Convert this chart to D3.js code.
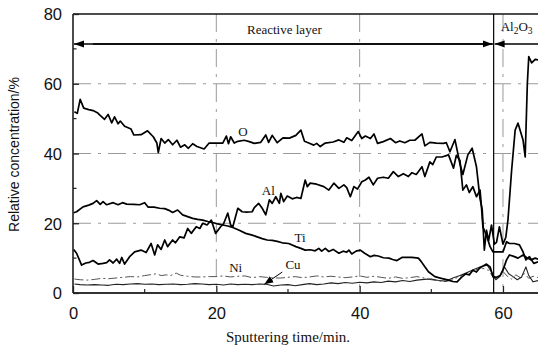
<!DOCTYPE html>
<html>
<head>
<meta charset="utf-8">
<script src="https://cdn.jsdelivr.net/npm/d3@7"></script>
<style>
  html, body { margin: 0; padding: 0; background: #fff; }
  svg { display: block; }
</style>
</head>
<body>
<svg id="chart" width="538" height="346"></svg>
<script>
// Depth profile: relative concentration (%) vs sputtering time (min)
const xTicks = [0, 20, 40, 60];
const yTicks = [0, 20, 40, 60, 80];
const xMinorTicks = [10, 30, 50];
const yMinorTicks = [10, 30, 50, 70];

// [time, concentration] pairs for each element
const oProfile = [[0.2,52],[0.6,51.5],[1.0,55.5],[1.5,53],[2.2,52.6],[2.8,52.3],[3.4,51.7],[3.75,51],[4.4,49.8],[4.9,51.2],[5.4,48.8],[5.8,50.5],[6.3,48.5],[6.6,49.3],[7.2,47.8],[8.1,47],[8.5,45.3],[9.5,45.4],[10.4,46.5],[11.2,44.8],[11.7,43],[11.9,40.3],[12.3,44.3],[12.8,43],[13.3,44],[13.9,42.5],[14.5,43.8],[15.0,41.8],[15.6,42.5],[16.1,41.5],[16.7,42.8],[17.3,42],[18.3,41.3],[19.0,43],[20.0,43],[20.9,43],[21.4,45],[21.7,42.8],[22.0,44.8],[22.5,43],[23.0,43.5],[23.9,43.8],[24.6,43.4],[25.3,42.9],[26.2,43.2],[26.9,45.3],[27.3,43.2],[27.8,45.2],[28.5,43.1],[29.3,44.5],[30.2,44.4],[31.1,45.2],[31.8,46.7],[32.3,43.5],[32.9,43],[33.6,42.4],[34.0,42.9],[34.5,42],[35.2,43],[36.3,43.3],[37.1,43.9],[37.8,43.2],[38.2,44.5],[38.9,43.7],[39.8,46.3],[40.3,44.3],[40.8,45],[41.5,44.3],[42.0,45.6],[42.5,42.9],[43.3,43.4],[44.3,44.3],[45.0,43.1],[45.6,43.6],[46.3,43.1],[47.0,43.8],[47.7,43.8],[48.7,45.6],[49.1,42.2],[49.8,43.2],[50.7,43],[51.7,42.9],[52.1,43.1],[52.6,40.5],[53.3,44],[54.0,37],[54.4,34],[55.1,39.6],[55.7,41.5],[56.3,36.2],[56.8,27],[57.1,24],[57.4,12.3],[57.7,18],[58.0,15],[58.4,19.5],[58.8,14],[59.1,14.5],[59.5,19],[60.0,14],[60.4,16],[60.7,21],[61.2,35],[61.7,46.7],[62.1,48.7],[62.8,43.9],[63.1,39],[63.4,60],[63.6,67.8],[64.0,66],[64.5,67],[65,66.8]];

const alProfile = [[0.1,12.5],[0.5,11.4],[1.2,8],[1.8,8.6],[2.3,8.8],[2.8,9.3],[3.5,8.3],[4.2,8.5],[4.7,8.7],[5.1,9.5],[5.6,8.6],[6.1,9.7],[6.5,8.5],[6.8,10.2],[7.2,8.3],[7.9,10.4],[8.6,11.8],[9.5,12.3],[10.2,11.6],[10.9,14.2],[11.4,10.9],[11.8,13.8],[12.3,12.5],[12.8,15.2],[13.2,13.3],[13.9,15.2],[14.3,14.4],[14.9,16.1],[15.5,15.8],[16.0,18.5],[16.5,17.1],[17.2,19],[17.7,18.5],[18.1,20],[18.7,19.5],[19.3,20.9],[19.9,17.1],[20.6,19],[21.0,19.8],[21.6,22.9],[22.0,19.5],[22.3,19],[23.0,24.3],[23.6,23.3],[24.2,23.2],[25.0,23.3],[25.3,24.5],[25.9,25.7],[26.4,24.3],[26.9,22.4],[27.4,26.7],[27.8,25.7],[28.3,27.6],[28.8,25.7],[29.0,28.6],[29.4,26.2],[29.9,27.8],[30.6,27],[31.2,27.4],[31.8,27.1],[32.4,32.4],[32.7,30.5],[33.1,31.5],[34.0,31.2],[35.0,30.5],[35.7,29.5],[36.4,31.5],[37.1,30],[37.8,31],[38.2,30.2],[38.7,27.6],[39.2,30.5],[39.7,29.8],[40.3,31.9],[40.8,32.4],[41.3,33.2],[41.9,31],[42.5,32.9],[43.3,33.2],[44.0,32.9],[44.7,34.8],[45.4,33.4],[46.1,34.2],[46.8,33.4],[47.3,34.5],[47.9,34],[48.7,36.2],[49.1,33.4],[49.8,37.6],[50.2,36.8],[50.7,39],[51.5,39],[52.4,39.6],[53.1,35.8],[53.5,39.5],[54.0,38],[54.4,29.5],[54.9,31],[55.3,28.8],[55.8,30.5],[56.3,27.6],[56.8,29.5],[57.0,24.7],[57.2,19],[57.7,16.5],[58.2,13.3],[58.6,11.8],[59.3,11.8],[60.0,11.8],[60.5,14.7],[60.9,14.2],[61.6,14.2],[62.3,13.8],[62.8,11.8],[63.2,9.5],[63.7,10.4],[64.3,8.5],[65,9]];

const tiProfile = [[0.1,23],[0.5,23.3],[1.4,24.7],[2.2,25.2],[2.8,25.7],[3.3,26.5],[3.8,25.4],[4.2,26.2],[4.7,25.3],[5.6,25.9],[6.3,25.3],[6.9,25.9],[7.5,25.5],[8.5,25.4],[9.3,25.3],[10.0,25.9],[10.5,24.6],[11.3,24.6],[12.1,24.3],[12.8,24.2],[13.4,23.7],[13.9,23.1],[14.6,23.8],[15.3,22.4],[16.0,21.9],[16.7,21.4],[17.4,21.1],[18.1,20.9],[18.8,20.5],[19.5,20.2],[20.2,19.8],[20.9,19.5],[21.6,19.2],[22.3,18.8],[23.2,18],[24.1,17.1],[25.0,16.6],[25.7,16.1],[26.4,15.6],[27.1,15.2],[27.8,15.1],[28.5,14.8],[29.2,14.4],[30.1,14.2],[31.1,13.3],[31.8,12.8],[32.4,12.3],[33.1,12.4],[33.8,12.1],[34.3,12.8],[34.7,12],[35.2,12.8],[35.7,11.9],[36.3,12.5],[37.1,11.4],[37.7,12],[38.2,11.7],[38.5,12.3],[38.9,11.2],[39.5,12],[40.1,12.3],[40.7,11.4],[41.5,10.4],[42.0,10.8],[42.6,10.6],[43.3,10.1],[44.1,10],[44.6,9.6],[45.2,9.3],[45.9,10.2],[46.6,10.2],[47.3,10.2],[48.2,10],[48.6,9],[49.1,7.5],[49.6,6.1],[50.5,4.7],[51.4,4.2],[52.4,3.7],[53.0,3.3],[53.6,3.2],[54.2,4.5],[54.8,5.5],[55.3,5.2],[55.8,6.5],[56.3,6],[56.8,7.3],[57.3,7.8],[57.7,8.3],[58.2,7.5],[58.6,4.7],[59.1,4.5],[59.6,5],[60.0,6.6],[60.5,9.5],[60.9,10.9],[61.5,10.5],[62.1,10],[62.8,10.9],[63.3,10.2],[63.9,9.5],[64.5,10],[65,9.6]];

const niProfile = [[0.2,4.0],[1,3.8],[2,3.7],[3,3.9],[4,4.2],[5,4.1],[6,4.3],[7,4.5],[8,4.7],[9,4.6],[10,5.0],[11,5.3],[11.6,5.5],[12.3,5.0],[13,5.2],[13.6,5.0],[14.4,5.7],[15,5.1],[16,4.8],[17,4.6],[18,4.6],[19,4.7],[20,4.7],[21,4.9],[22,4.6],[23,4.8],[24,4.9],[25,4.4],[26,4.7],[27,4.5],[28,4.3],[29,4.3],[30,4.5],[31,4.7],[32,4.4],[33,4.6],[34,4.9],[35,4.6],[36,4.8],[37,4.6],[38,4.4],[39,4.6],[40,4.9],[41,4.5],[42,4.8],[43,4.5],[44,4.2],[45,4.6],[46,4.2],[47,4.4],[48,4.7],[49,4.3],[50,3.8],[51,3.5],[52,3.3],[53,3.8],[54,4.8],[55,5.8],[56,6.5],[57,7.2],[58,6.5],[58.7,4.2],[59.3,4.4],[60,6.2],[60.6,4.8],[61.2,4.0],[61.8,5.2],[62.5,4.3],[63.0,5.6],[63.6,4.2],[64.2,4.8],[65,4.4]];

const cuProfile = [[0.2,2.6],[1,2.4],[2,2.3],[3,2.4],[4,2.3],[5,2.2],[6,2.5],[7,2.4],[8,2.6],[9,2.7],[10,2.5],[11,2.6],[12,2.4],[13,2.5],[14,2.6],[15,2.4],[16,2.5],[17,2.7],[18,2.6],[19,2.4],[20,2.5],[21,2.3],[22,2.6],[23,2.4],[24,2.5],[25,2.4],[26,2.6],[27,2.5],[28,2.0],[29,2.3],[30,2.4],[31,2.1],[32,2.4],[33,2.7],[34,2.4],[35,2.6],[36,2.9],[37,2.7],[38,3.0],[39,2.8],[40,3.1],[41,2.9],[42,3.2],[43,3.0],[44,3.4],[45,3.2],[46,3.6],[47,3.3],[48,3.7],[49,3.9],[50,4.0],[51,3.6],[52,3.4],[53,4.3],[54,5.0],[55,5.9],[56,6.8],[57,7.6],[57.8,8.0],[58.4,6.0],[59,3.8],[59.6,4.8],[60.2,7.5],[60.8,5.5],[61.4,4.7],[62,3.8],[62.6,4.6],[63.2,7.5],[63.6,5.0],[64.2,3.2],[65,3.6]];

// Element labels: [name, time, concentration]
const elementLabels = [["O", 23.7, 46.3], ["Al", 27.25, 29.3], ["Ti", 31.7, 15.9], ["Ni", 22.7, 7.3], ["Cu", 30.7, 8.3]];
// Leader from the "Cu" label to its curve: [time, concentration] start and end
const cuPointer = [[29.2, 6.0], [26.7, 2.5]];

// Layer annotation
const layerBoundary = 58.7;   // min
const layerArrowLevel = 71.4; // %
const layerNames = ["Reactive layer", "Al2O3"];

const svg = d3.select("#chart");
const x = d3.scaleLinear().domain([0, 65]).range([73, 538.8]);
const y = d3.scaleLinear().domain([0, 80]).range([293, 14]);

const defs = svg.append("defs");
defs.append("clipPath").attr("id", "plot")
  .append("rect").attr("x", x(0)).attr("y", y(80)).attr("width", 538 - x(0)).attr("height", y(0) - y(80));
defs.append("marker").attr("id", "head")
  .attr("viewBox", "0 0 10 10").attr("refX", 10).attr("refY", 5)
  .attr("markerWidth", 10).attr("markerHeight", 10).attr("markerUnits", "userSpaceOnUse")
  .attr("orient", "auto")
  .append("path").attr("d", "M0,1.5 L10,5 L0,8.5 Z").attr("fill", "#000");
defs.append("marker").attr("id", "smallHead")
  .attr("viewBox", "0 0 10 10").attr("refX", 10).attr("refY", 5)
  .attr("markerWidth", 9).attr("markerHeight", 9).attr("markerUnits", "userSpaceOnUse")
  .attr("orient", "auto")
  .append("path").attr("d", "M0,1 L10,5 L0,9 Z").attr("fill", "#000");

// Dash-dot grid
const grid = svg.append("g").attr("stroke", "#9a9a9a").attr("stroke-width", 1)
  .attr("stroke-dasharray", "18,7,3,7").attr("fill", "none");
[20, 40, 60].forEach(v => {
  grid.append("line").attr("x1", x(0)).attr("x2", 538).attr("y1", y(v)).attr("y2", y(v));
});
[20, 40, 60].forEach(t => {
  grid.append("line").attr("x1", x(t)).attr("x2", x(t)).attr("y1", y(80)).attr("y2", y(0));
});

// Frame: left axis, top border, bottom axis
svg.append("line").attr("x1", x(0)).attr("x2", 538).attr("y1", y(80)).attr("y2", y(80))
  .attr("stroke", "#111").attr("stroke-width", 1.5);
svg.append("line").attr("x1", x(0)).attr("x2", x(0)).attr("y1", y(80)).attr("y2", y(0))
  .attr("stroke", "#111").attr("stroke-width", 1.5);
svg.append("line").attr("x1", x(0)).attr("x2", 538).attr("y1", y(0)).attr("y2", y(0))
  .attr("stroke", "#333").attr("stroke-width", 2.2);

// Axes with inward ticks
const xAxis = svg.append("g").attr("transform", `translate(0,${y(0)})`)
  .call(d3.axisBottom(x).tickValues(xTicks).tickSize(-7).tickPadding(14).tickFormat(d3.format("d")));
xAxis.select(".domain").remove();
const yAxis = svg.append("g").attr("transform", `translate(${x(0)},0)`)
  .call(d3.axisLeft(y).tickValues(yTicks).tickSize(-6).tickPadding(11).tickFormat(d3.format("d")));
yAxis.select(".domain").remove();
[xAxis, yAxis].forEach(a => {
  a.selectAll(".tick line").attr("stroke", "#222").attr("stroke-width", 1.3);
  a.selectAll(".tick text").attr("fill", "#111")
    .style("font-family", "'Liberation Sans', Arial, sans-serif").style("font-size", "16.5px");
});
yAxis.selectAll(".tick text").attr("dy", "0.36em");
svg.append("g").selectAll("line").data(xMinorTicks).join("line")
  .attr("x1", d => x(d)).attr("x2", d => x(d)).attr("y1", y(0)).attr("y2", y(0) - 4)
  .attr("stroke", "#222").attr("stroke-width", 1.2);
svg.append("g").selectAll("line").data(yMinorTicks).join("line")
  .attr("x1", x(0)).attr("x2", x(0) + 3.5).attr("y1", d => y(d)).attr("y2", d => y(d))
  .attr("stroke", "#222").attr("stroke-width", 1.2);

// Axis titles
svg.append("text")
  .attr("transform", `translate(19,${(y(0) + y(80)) / 2 + 1}) rotate(-90)`)
  .attr("text-anchor", "middle")
  .style("font-family", "'Liberation Sans', Arial, sans-serif").style("font-size", "14px")
  .attr("fill", "#111").text("Relative concentration/%");
svg.append("text")
  .attr("x", 288).attr("y", 342).attr("text-anchor", "middle")
  .style("font-family", "'Liberation Serif', 'Times New Roman', serif").style("font-size", "15px")
  .attr("fill", "#111").text("Sputtering time/min.");

// Profiles
const line = d3.line().x(d => x(d[0])).y(d => y(d[1]));
const curves = svg.append("g").attr("clip-path", "url(#plot)").attr("fill", "none")
  .attr("stroke-linejoin", "round");
curves.append("path").datum(niProfile).attr("d", line)
  .attr("stroke", "#555").attr("stroke-width", 1).attr("stroke-dasharray", "9,3,2,3");
curves.append("path").datum(cuProfile).attr("d", line)
  .attr("stroke", "#222").attr("stroke-width", 1.1);
curves.append("path").datum(tiProfile).attr("d", line)
  .attr("stroke", "#000").attr("stroke-width", 1.7);
curves.append("path").datum(alProfile).attr("d", line)
  .attr("stroke", "#000").attr("stroke-width", 1.7);
curves.append("path").datum(oProfile).attr("d", line)
  .attr("stroke", "#000").attr("stroke-width", 1.7);

// Element labels
svg.append("g").selectAll("text").data(elementLabels).join("text")
  .attr("x", d => x(d[1])).attr("y", d => y(d[2]))
  .attr("text-anchor", "middle").attr("dominant-baseline", "central")
  .style("font-family", "'Liberation Serif', 'Times New Roman', serif").style("font-size", "13px")
  .attr("fill", "#111").text(d => d[0]);
svg.append("line")
  .attr("x1", x(cuPointer[0][0])).attr("y1", y(cuPointer[0][1]))
  .attr("x2", x(cuPointer[1][0])).attr("y2", y(cuPointer[1][1]))
  .attr("stroke", "#000").attr("stroke-width", 1).attr("marker-end", "url(#smallHead)");

// Layer boundary and arrows
svg.append("line").attr("x1", x(layerBoundary)).attr("x2", x(layerBoundary))
  .attr("y1", y(80)).attr("y2", y(0)).attr("stroke", "#000").attr("stroke-width", 1.2);
const arrowY = y(layerArrowLevel);
svg.append("line").attr("x1", x(layerBoundary) - 1).attr("x2", x(0) + 1)
  .attr("y1", arrowY).attr("y2", arrowY)
  .attr("stroke", "#000").attr("stroke-width", 1.4).attr("marker-end", "url(#head)");
svg.append("line").attr("x1", x(0) + 20).attr("x2", x(layerBoundary) - 1)
  .attr("y1", arrowY).attr("y2", arrowY)
  .attr("stroke", "#000").attr("stroke-width", 1.4).attr("marker-end", "url(#head)");
svg.append("line").attr("x1", 538).attr("x2", x(layerBoundary) + 1)
  .attr("y1", arrowY).attr("y2", arrowY)
  .attr("stroke", "#000").attr("stroke-width", 1.4).attr("marker-end", "url(#head)");

const serif = "'Liberation Serif', 'Times New Roman', serif";
svg.append("text").attr("x", x(29.5)).attr("y", 33.5).attr("text-anchor", "middle")
  .style("font-family", serif).style("font-size", "13px").attr("fill", "#111")
  .text(layerNames[0]);
// Al2O3 with subscripts
const alox = svg.append("text").attr("x", x(layerBoundary) + 7).attr("y", 33.5)
  .style("font-family", serif).style("font-size", "13px").attr("fill", "#111");
const formula = layerNames[1].match(/[A-Za-z]+|\d+/g);
formula.forEach(part => {
  const isNum = /\d/.test(part);
  alox.append("tspan")
    .attr("dy", isNum ? 3 : (alox.selectAll("tspan").size() ? -3 : 0))
    .style("font-size", isNum ? "9.5px" : "13px")
    .text(part);
});
</script>
</body>
</html>
